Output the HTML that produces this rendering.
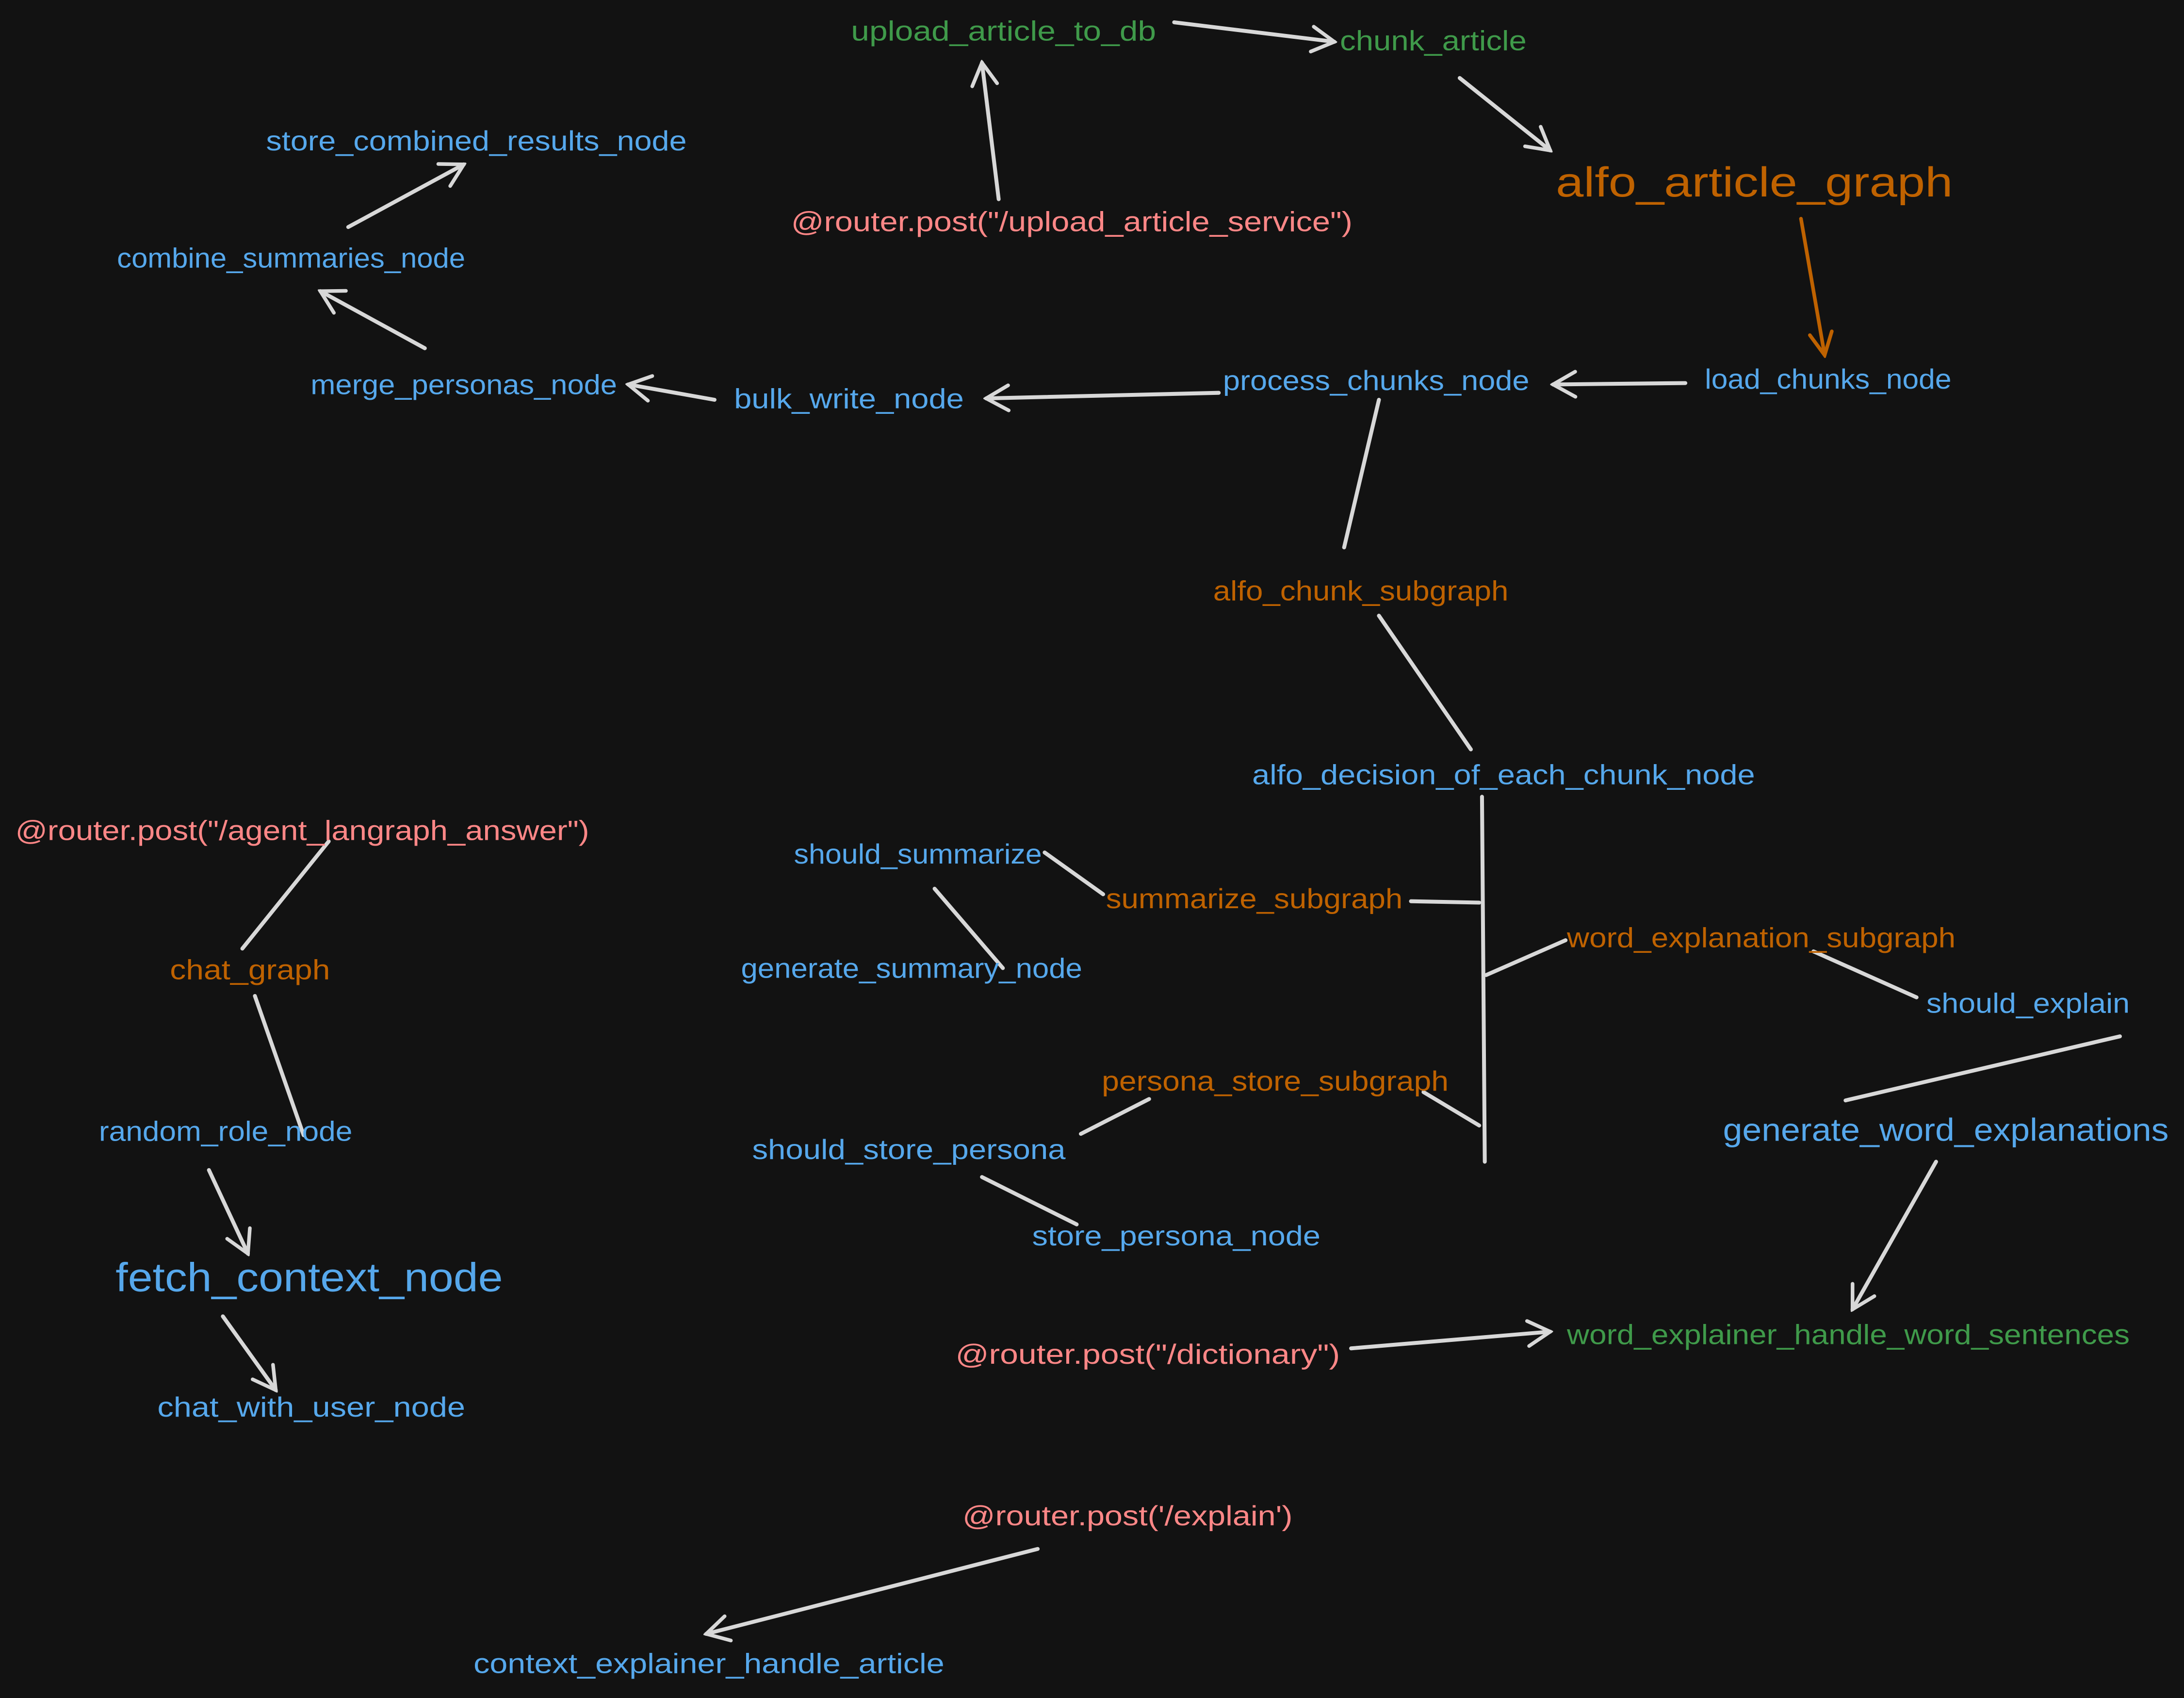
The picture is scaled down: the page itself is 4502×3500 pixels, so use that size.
<!DOCTYPE html>
<html><head><meta charset="utf-8"><style>
html,body{margin:0;padding:0;background:#121212;}
svg{display:block;}
text{font-family:"Liberation Sans",sans-serif;font-size:20px;}
.b{fill:#56a8ec}.g{fill:#3f9a4a}.o{fill:#bf6200}.r{fill:#ff8787}
</style></head><body>
<svg width="4502" height="3500" viewBox="0 0 1568 1219" xmlns="http://www.w3.org/2000/svg">
<defs>
<marker id="a" viewBox="-18 -11 20 22" markerWidth="20" markerHeight="22" refX="0" refY="0" orient="auto" markerUnits="userSpaceOnUse">
<path d="M-16,-9 L0,0 L-16,9" fill="none" stroke="#d8d8d8" stroke-width="2.6" stroke-linecap="round"/>
</marker>
<marker id="ao" viewBox="-18 -11 20 22" markerWidth="20" markerHeight="22" refX="0" refY="0" orient="auto" markerUnits="userSpaceOnUse">
<path d="M-16,-8 L0,0 L-16,8" fill="none" stroke="#bf6200" stroke-width="2.6" stroke-linecap="round"/>
</marker>
</defs>
<rect width="1568" height="1219" fill="#121212"/>
<g stroke="#d8d8d8" stroke-width="2.8" stroke-linecap="round" fill="none">
<line x1="843" y1="16" x2="958" y2="30" marker-end="url(#a)"/>
<line x1="717" y1="143" x2="705" y2="45" marker-end="url(#a)"/>
<line x1="1048" y1="56" x2="1113" y2="108" marker-end="url(#a)"/>
<line x1="1210" y1="275" x2="1115" y2="276" marker-end="url(#a)"/>
<line x1="875" y1="282" x2="708" y2="286" marker-end="url(#a)"/>
<line x1="513" y1="287" x2="451" y2="276" marker-end="url(#a)"/>
<line x1="305" y1="250" x2="230" y2="209" marker-end="url(#a)"/>
<line x1="250" y1="163" x2="333" y2="118" marker-end="url(#a)"/>
<line x1="990" y1="287" x2="965" y2="393"/>
<line x1="990" y1="442" x2="1056" y2="538"/>
<line x1="1064" y1="572" x2="1066" y2="834"/>
<line x1="1013" y1="647" x2="1062" y2="648"/>
<line x1="1067" y1="700" x2="1124" y2="675"/>
<line x1="1022" y1="784" x2="1062" y2="808"/>
<line x1="750" y1="612" x2="792" y2="642"/>
<line x1="671" y1="638" x2="720" y2="695"/>
<line x1="1302" y1="683" x2="1376" y2="716"/>
<line x1="1522" y1="744" x2="1325" y2="790"/>
<line x1="1390" y1="834" x2="1330" y2="940" marker-end="url(#a)"/>
<line x1="825" y1="789" x2="776" y2="814"/>
<line x1="705" y1="845" x2="773" y2="879"/>
<line x1="236" y1="604" x2="174" y2="681"/>
<line x1="183" y1="715" x2="218" y2="815"/>
<line x1="150" y1="840" x2="178" y2="900" marker-end="url(#a)"/>
<line x1="160" y1="945" x2="198" y2="998" marker-end="url(#a)"/>
<line x1="970" y1="968" x2="1113" y2="956" marker-end="url(#a)"/>
<line x1="745" y1="1112" x2="507" y2="1173" marker-end="url(#a)"/>
</g>
<line x1="1293" y1="157" x2="1310" y2="255" stroke="#bf6200" stroke-width="2.6" stroke-linecap="round" marker-end="url(#ao)"/>
<g>
<text class="g" x="611" y="29" textLength="219" lengthAdjust="spacingAndGlyphs">upload_article_to_db</text>
<text class="g" x="962" y="36" textLength="134" lengthAdjust="spacingAndGlyphs">chunk_article</text>
<text class="o" x="1117" y="141" style="font-size:30px" textLength="285" lengthAdjust="spacingAndGlyphs">alfo_article_graph</text>
<text class="b" x="191" y="108" textLength="302" lengthAdjust="spacingAndGlyphs">store_combined_results_node</text>
<text class="b" x="84" y="192" textLength="250" lengthAdjust="spacingAndGlyphs">combine_summaries_node</text>
<text class="r" x="568" y="166" textLength="403" lengthAdjust="spacingAndGlyphs">@router.post("/upload_article_service")</text>
<text class="b" x="223" y="283" textLength="220" lengthAdjust="spacingAndGlyphs">merge_personas_node</text>
<text class="b" x="527" y="293" textLength="165" lengthAdjust="spacingAndGlyphs">bulk_write_node</text>
<text class="b" x="878" y="280" textLength="220" lengthAdjust="spacingAndGlyphs">process_chunks_node</text>
<text class="b" x="1224" y="279" textLength="177" lengthAdjust="spacingAndGlyphs">load_chunks_node</text>
<text class="o" x="871" y="431" textLength="212" lengthAdjust="spacingAndGlyphs">alfo_chunk_subgraph</text>
<text class="b" x="899" y="563" textLength="361" lengthAdjust="spacingAndGlyphs">alfo_decision_of_each_chunk_node</text>
<text class="r" x="11" y="603" textLength="412" lengthAdjust="spacingAndGlyphs">@router.post("/agent_langraph_answer")</text>
<text class="b" x="570" y="620" textLength="178" lengthAdjust="spacingAndGlyphs">should_summarize</text>
<text class="o" x="794" y="652" textLength="213" lengthAdjust="spacingAndGlyphs">summarize_subgraph</text>
<text class="o" x="1125" y="680" textLength="279" lengthAdjust="spacingAndGlyphs">word_explanation_subgraph</text>
<text class="o" x="122" y="703" textLength="115" lengthAdjust="spacingAndGlyphs">chat_graph</text>
<text class="b" x="532" y="702" textLength="245" lengthAdjust="spacingAndGlyphs">generate_summary_node</text>
<text class="b" x="1383" y="727" textLength="146" lengthAdjust="spacingAndGlyphs">should_explain</text>
<text class="o" x="791" y="783" textLength="249" lengthAdjust="spacingAndGlyphs">persona_store_subgraph</text>
<text class="b" x="71" y="819" textLength="182" lengthAdjust="spacingAndGlyphs">random_role_node</text>
<text class="b" x="540" y="832" textLength="225" lengthAdjust="spacingAndGlyphs">should_store_persona</text>
<text class="b" x="1237" y="819" style="font-size:23px" textLength="320" lengthAdjust="spacingAndGlyphs">generate_word_explanations</text>
<text class="b" x="741" y="894" textLength="207" lengthAdjust="spacingAndGlyphs">store_persona_node</text>
<text class="b" x="83" y="927" style="font-size:29px" textLength="278" lengthAdjust="spacingAndGlyphs">fetch_context_node</text>
<text class="r" x="686" y="979" textLength="276" lengthAdjust="spacingAndGlyphs">@router.post("/dictionary")</text>
<text class="g" x="1125" y="965" textLength="404" lengthAdjust="spacingAndGlyphs">word_explainer_handle_word_sentences</text>
<text class="b" x="113" y="1017" textLength="221" lengthAdjust="spacingAndGlyphs">chat_with_user_node</text>
<text class="r" x="691" y="1095" textLength="237" lengthAdjust="spacingAndGlyphs">@router.post('/explain')</text>
<text class="b" x="340" y="1201" textLength="338" lengthAdjust="spacingAndGlyphs">context_explainer_handle_article</text>
</g>
</svg>
</body></html>
